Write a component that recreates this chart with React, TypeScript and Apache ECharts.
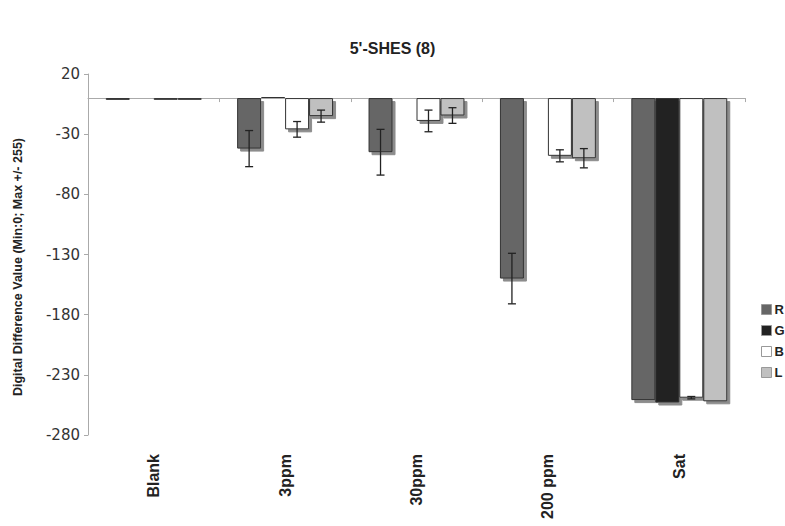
import React, { useEffect, useRef } from "react";
import * as echarts from "echarts";

const categories = ["Blank", "3ppm", "30ppm", "200 ppm", "Sat"];
const seriesNames = ["R", "G", "B", "L"];
const valuesR = [-1.5, -42, -45, -150, -251];
const valuesG = [0, 1, 0.5, 0.5, -253];
const valuesB = [-1.5, -26, -19, -48, -249];
const valuesL = [-1.5, -15, -14.5, -50, -252];
const errR = [0, 15, 19, 21, 0];
const errG = [0, 0, 0, 0, 0];
const errB = [0, 6.5, 9, 5, 1];
const errL = [0, 5, 6.5, 8, 0];
const colors = ["#666666", "#222222", "#ffffff", "#c0c0c0"];
const yTicks = { min: -280, max: 20, interval: 50 };
const yAxisTitle = "Digital Difference Value (Min:0; Max +/- 255)";

const BAR_CAT_GAP = 0.27;

export default function App() {
  const ref = useRef<HTMLDivElement>(null);
  useEffect(() => {
    if (!ref.current) return;
    const chart = echarts.init(ref.current, undefined, { renderer: "svg" });
    const allValues = [valuesR, valuesG, valuesB, valuesL];
    const allErr = [errR, errG, errB, errL];
    const errData: number[][] = [];
    allValues.forEach((vals, s) => {
      vals.forEach((v, c) => {
        if (allErr[s][c] > 0) errData.push([c, v, allErr[s][c], s]);
      });
    });
    const barSeries = seriesNames.map((name, s) => ({
      name,
      type: "bar",
      xAxisIndex: 0,
      data: allValues[s],
      barGap: "0%",
      barCategoryGap: "27%",
      itemStyle: {
        color: colors[s],
        borderColor: "#333333",
        borderWidth: 1,
        shadowColor: "rgba(0,0,0,0.45)",
        shadowBlur: 1,
        shadowOffsetX: 3,
        shadowOffsetY: 3,
      },
    }));
    chart.setOption({
      animation: false,
      backgroundColor: "#ffffff",
      title: {
        text: "5'-SHES (8)",
        left: "center",
        top: 35,
        textStyle: {
          fontFamily: "Liberation Sans",
          fontWeight: "bold",
          fontSize: 16,
          color: "#222",
        },
      },
      graphic: [
        {
          type: "text",
          x: 18,
          y: 267,
          rotation: Math.PI / 2,
          style: {
            text: yAxisTitle,
            align: "center",
            verticalAlign: "middle",
            fontFamily: "Liberation Sans",
            fontWeight: "bold",
            fontSize: 12.5,
            fill: "#222",
          },
        },
      ],
      legend: {
        data: seriesNames,
        orient: "vertical",
        left: 756,
        top: 298,
        itemWidth: 10,
        itemHeight: 10,
        itemGap: 8,
        icon: "rect",
        textStyle: {
          fontFamily: "Liberation Sans",
          fontWeight: "bold",
          fontSize: 13,
          color: "#222",
          padding: [0, 0, 0, -2],
        },
        itemStyle: { borderColor: "#999", borderWidth: 1, shadowBlur: 0, shadowOffsetX: 0, shadowOffsetY: 0 },
      },
      grid: { left: 88, right: 40, top: 74, bottom: 91, containLabel: false },
      xAxis: [
        {
          type: "category",
          data: categories,
          position: "bottom",
          axisLine: { show: true, onZero: true, lineStyle: { color: "#aaaaaa", width: 1 } },
          axisTick: { show: true, length: 4, lineStyle: { color: "#aaaaaa" } },
          axisLabel: { show: false },
          splitLine: { show: false },
        },
        {
          type: "category",
          data: categories,
          position: "bottom",
          axisLine: { show: false, onZero: false },
          axisTick: { show: false },
          axisLabel: {
            show: true,
            rotate: 90,
            margin: 19,
            fontFamily: "Liberation Sans",
            fontWeight: "bold",
            fontSize: 16,
            color: "#222",
          },
        },
      ],
      yAxis: {
        type: "value",
        min: yTicks.min,
        max: yTicks.max,
        interval: yTicks.interval,
        axisLine: { show: true, lineStyle: { color: "#aaaaaa" } },
        axisTick: { show: true, length: 4, lineStyle: { color: "#aaaaaa" } },
        axisLabel: {
          margin: 8,
          fontFamily: "DejaVu Sans",
          fontSize: 15,
          color: "#333",
        },
        splitLine: { show: false },
      },
      series: [
        ...barSeries,
        {
          type: "custom",
          name: "err",
          xAxisIndex: 0,
          data: errData,
          z: 10,
          renderItem: (params: any, api: any) => {
            const c = api.value(0);
            const v = api.value(1);
            const e = api.value(2);
            const s = api.value(3);
            const band = api.size([1, 0])[0];
            const barW = (band * (1 - BAR_CAT_GAP)) / 4;
            const center = api.coord([c, v]);
            const x = center[0] + (s - 1.5) * barW;
            const top = api.coord([c, v + e])[1];
            const bot = api.coord([c, v - e])[1];
            const cap = 4;
            const style = { stroke: "#222", lineWidth: 1.3 };
            return {
              type: "group",
              children: [
                { type: "line", shape: { x1: x, y1: top, x2: x, y2: bot }, style },
                { type: "line", shape: { x1: x - cap, y1: top, x2: x + cap, y2: top }, style },
                { type: "line", shape: { x1: x - cap, y1: bot, x2: x + cap, y2: bot }, style },
              ],
            };
          },
        },
      ],
    });
    return () => chart.dispose();
  }, []);
  return <div ref={ref} style={{ width: 785, height: 526, position: "absolute", left: 0, top: 0 }} />;
}
